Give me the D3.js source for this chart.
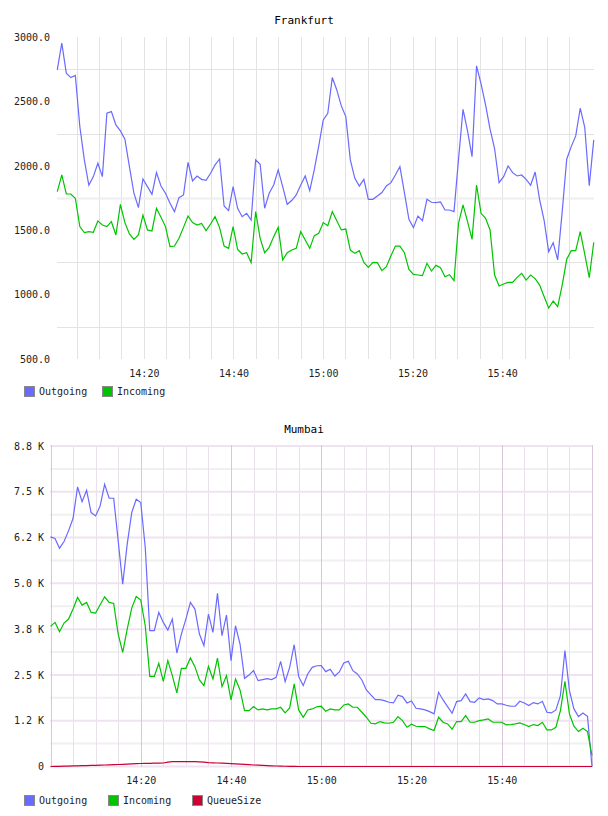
<!DOCTYPE html>
<html>
<head>
<meta charset="utf-8">
<script src="https://cdn.jsdelivr.net/npm/d3@7"></script>
<style>
body { margin: 0; background: #fff; }
text { font-family: "DejaVu Sans Mono", monospace; font-size: 10px; fill: #222; }
.title { font-size: 11px; fill: #000; }
</style>
</head>
<body>
<svg width="608" height="816"></svg>
<script>
// Frankfurt, one sample per minute from 14:00:40
var frankfurtOut = [2745, 2952, 2719, 2685, 2701, 2305, 2046, 1849, 1916, 2020,
	1916, 2408, 2421, 2317, 2271, 2206, 1994, 1787, 1675, 1898,
	1838, 1779, 1947, 1843, 1787, 1709, 1644, 1753, 1774, 2027,
	1882, 1921, 1895, 1888, 1942, 2007, 2053, 1688, 1652, 1838,
	1670, 1605, 1631, 1579, 2046, 2012, 1670, 1787, 1851, 1968,
	1838, 1701, 1730, 1774, 1851, 1921, 1807, 1968, 2154, 2356,
	2408, 2685, 2589, 2465, 2382, 2046, 1903, 1843, 1895, 1740,
	1740, 1766, 1792, 1843, 1869, 1929, 1994, 1792, 1585, 1520,
	1610, 1574, 1740, 1717, 1714, 1719, 1657, 1657, 1644, 2050,
	2439, 2271, 2071, 2776, 2636, 2473, 2284, 2134, 1869, 1916,
	1999, 1947, 1921, 1929, 1895, 1849, 1952, 1735, 1574, 1333,
	1403, 1269, 1644, 2051, 2149, 2232, 2447, 2299, 1846, 2201]
var frankfurtIn = [1799, 1929, 1781, 1781, 1748, 1528, 1481, 1489, 1484, 1572,
	1540, 1528, 1566, 1463, 1701, 1559, 1471, 1429, 1463, 1618,
	1502, 1494, 1670, 1600, 1528, 1372, 1377, 1437, 1522, 1610,
	1559, 1540, 1553, 1497, 1548, 1605, 1520, 1377, 1359, 1528,
	1351, 1315, 1325, 1248, 1644, 1437, 1325, 1367, 1450, 1522,
	1269, 1325, 1346, 1359, 1489, 1424, 1359, 1458, 1476, 1559,
	1535, 1644, 1574, 1502, 1509, 1346, 1320, 1341, 1250, 1211,
	1250, 1248, 1186, 1217, 1300, 1377, 1377, 1325, 1196, 1157,
	1152, 1147, 1243, 1183, 1227, 1209, 1139, 1155, 1108, 1553,
	1696, 1566, 1429, 1851, 1631, 1592, 1502, 1152, 1067, 1082,
	1095, 1095, 1134, 1165, 1113, 1152, 1124, 1074, 984, 896,
	950, 906, 1074, 1274, 1341, 1341, 1489, 1315, 1131, 1406]

// Mumbai, one sample per minute from 14:00:00
var mumbaiOut = [6269, 6224, 5960, 6142, 6433, 6778, 7632, 7232, 7541, 6933,
	6842, 7114, 7705, 7323, 7323, 6160, 4979, 6069, 6933, 7296,
	7205, 5979, 3707, 3707, 4207, 3934, 3725, 4025, 3098, 3616,
	4025, 4479, 4298, 3616, 3298, 4161, 3662, 4725, 3571, 4134,
	2889, 3843, 3344, 2408, 2499, 2617, 2344, 2371, 2399, 2371,
	2435, 2871, 2317, 2708, 3325, 2453, 2208, 2526, 2708, 2750,
	2753, 2590, 2653, 2471, 2580, 2826, 2871, 2617, 2526, 2362,
	2090, 1953, 1826, 1826, 1799, 1754, 1735, 1944, 1908, 1735,
	1790, 1590, 1572, 1545, 1499, 1436, 2026, 1817, 1635, 1454,
	1772, 1799, 1981, 1772, 1754, 1872, 1826, 1844, 1799, 1708,
	1708, 1672, 1645, 1645, 1781, 1735, 1663, 1745, 1708, 1781,
	1481, 1463, 1545, 1935, 3162, 2072, 1572, 1363, 1463, 1372,
	0]
var mumbaiIn = [3825, 3934, 3680, 3916, 4025, 4298, 4616, 4407, 4479, 4207,
	4189, 4416, 4634, 4479, 4452, 3616, 3116, 3753, 4325, 4643,
	4543, 3843, 2462, 2462, 2817, 2326, 2889, 2480, 2008, 2680,
	2680, 2962, 2726, 2362, 2208, 2735, 2390, 2962, 2181, 2480,
	1817, 2390, 2090, 1526, 1526, 1635, 1545, 1572, 1545, 1572,
	1572, 1617, 1463, 1599, 2253, 1545, 1345, 1545, 1572, 1630,
	1645, 1508, 1572, 1545, 1545, 1681, 1708, 1617, 1617, 1481,
	1345, 1181, 1163, 1227, 1190, 1181, 1208, 1363, 1254, 1072,
	1154, 1099, 1090, 1090, 1027, 981, 1345, 1208, 1163, 1018,
	1227, 1227, 1390, 1208, 1208, 1254, 1272, 1299, 1208, 1208,
	1208, 1136, 1145, 1163, 1190, 1145, 1090, 1145, 1118, 1208,
	999, 999, 1072, 1526, 2326, 1436, 1099, 954, 1045, 954,
	300]
var mumbaiQueue = [0, 3, 6, 9, 12, 15, 18, 22, 26, 30,
	33, 37, 41, 45, 50, 55, 60, 66, 72, 78,
	82, 85, 88, 90, 92, 95, 120, 132, 134, 135,
	135, 134, 132, 128, 120, 104, 100, 95, 90, 84,
	77, 72, 65, 58, 50, 41, 35, 28, 22, 18,
	14, 10, 7, 4, 2, 0, 0, 0, 0, 0,
	0, 0, 0, 0, 0, 0, 0, 0, 0, 0,
	0, 0, 0, 0, 0, 0, 0, 0, 0, 0,
	0, 0, 0, 0, 0, 0, 0, 0, 0, 0,
	0, 0, 0, 0, 0, 0, 0, 0, 0, 0,
	0, 0, 0, 0, 0, 0, 0, 0, 0, 0,
	0, 0, 0, 0, 0, 0, 0, 0, 0, 0,
	0]

var frankfurtTicks = [500, 1000, 1500, 2000, 2500, 3000]
var frankfurtGrid = [750, 1250, 1750, 2250, 2750]
var mumbaiTicks = [0, 1250, 2500, 3750, 5000, 6250, 7500, 8750]
var mumbaiTickLabels = ["0", "1.2 K", "2.5 K", "3.8 K", "5.0 K", "6.2 K", "7.5 K", "8.8 K"]
var mumbaiMinor = [625, 1875, 3125, 4375, 5625, 6875, 8125]

var colors = { out: "#6a6aff", inc: "#00c400", queue: "#cc0033" }

var svg = d3.select("svg")
var t0 = new Date(2020, 0, 1, 14, 0, 0)
var t1 = new Date(2020, 0, 1, 16, 0, 0)
var labelTimes = d3.timeMinute.every(20).range(new Date(2020, 0, 1, 14, 10), t1)
var fmt = d3.timeFormat("%H:%M")

function sampleTimes(n, startSec, stepSec) {
	var out = []
	for (var i = 0; i < n; i++) out.push(new Date(+t0 + (startSec + i * stepSec) * 1000))
	return out
}

function legend(g, items, xs, y) {
	items.forEach(function(it, i) {
		g.append("rect").attr("x", xs[i] + .5).attr("y", y + .5).attr("width", 10).attr("height", 10)
			.attr("fill", it[1]).attr("stroke", "#888")
		g.append("text").attr("x", xs[i] + 15).attr("y", y + 8.5).text(it[0])
	})
}

// ---------- Frankfurt ----------
var fTimes = sampleTimes(frankfurtOut.length, 40, 60.4)
var xF = d3.scaleTime().domain([t0, t1]).range([54.3, 591.7])
var yF = d3.scaleLinear().domain([500, 3000]).range([359, 37])

var topG = svg.append("g")
topG.append("text").attr("class", "title").attr("x", 304).attr("y", 24).attr("text-anchor", "middle").text("Frankfurt")

topG.selectAll(".vg").data(d3.timeMinute.every(5).range(new Date(2020, 0, 1, 14, 5), t1))
	.enter().append("line")
	.attr("x1", d => Math.round(xF(d)) + .5).attr("x2", d => Math.round(xF(d)) + .5)
	.attr("y1", 37).attr("y2", 359).attr("stroke", "#e3e3e3")
topG.selectAll(".hg").data(frankfurtGrid).enter().append("line")
	.attr("x1", 57).attr("x2", 594)
	.attr("y1", d => Math.round(yF(d)) + .5).attr("y2", d => Math.round(yF(d)) + .5)
	.attr("stroke", d => d == 1750 ? "#eeeeee" : "#e3e3e3")
	.attr("stroke-width", d => d == 1750 ? 2 : 1)

topG.append("g").attr("transform", "translate(57,0)")
	.call(d3.axisLeft(yF).tickValues(frankfurtTicks).tickFormat(d => d.toFixed(1)).tickSize(0).tickPadding(7))
	.call(g => g.select(".domain").remove())
topG.append("g").attr("transform", "translate(0,359)")
	.call(d3.axisBottom(xF).tickValues(labelTimes).tickFormat(fmt).tickSize(0).tickPadding(11))
	.call(g => g.select(".domain").remove())

var lineF = d3.line().x((d, i) => xF(fTimes[i])).y(d => yF(d))
topG.append("path").datum(frankfurtOut).attr("d", lineF).attr("fill", "none").attr("stroke", colors.out).attr("stroke-width", 1.2)
topG.append("path").datum(frankfurtIn).attr("d", lineF).attr("fill", "none").attr("stroke", colors.inc).attr("stroke-width", 1.2)

topG.selectAll(".tick text").attr("fill", "#222").style("font-family", "DejaVu Sans Mono").style("font-size", "10px")
legend(topG, [["Outgoing", colors.out], ["Incoming", colors.inc]], [24, 102], 386)

// ---------- Mumbai ----------
var mTimes = sampleTimes(mumbaiOut.length, 0, 60)
var xM = d3.scaleTime().domain([t0, t1]).range([50.5, 592])
var yM = d3.scaleLinear().domain([0, 8750]).range([766.5, 446])

var botG = svg.append("g")
botG.append("text").attr("class", "title").attr("x", 304).attr("y", 433).attr("text-anchor", "middle").text("Mumbai")

botG.selectAll(".hm").data(mumbaiMinor).enter().append("line")
	.attr("x1", 50).attr("x2", 593).attr("y1", d => yM(d)).attr("y2", d => yM(d))
	.attr("stroke", "#f1f0f1").attr("stroke-width", 2)
botG.selectAll(".vm").data(d3.timeMinute.every(5).range(t0, t1).filter(d => d.getMinutes() % 20))
	.enter().append("line")
	.attr("x1", d => Math.round(xM(d)) + .5).attr("x2", d => Math.round(xM(d)) + .5)
	.attr("y1", 446).attr("y2", 767).attr("stroke", "#e9e1e9")
botG.selectAll(".hM").data(mumbaiTicks).enter().append("line")
	.attr("x1", 50).attr("x2", 593).attr("y1", d => yM(d)).attr("y2", d => yM(d))
	.attr("stroke", "#f0e2f0").attr("stroke-width", 2)
botG.selectAll(".vM").data(d3.timeMinute.every(20).range(t0, new Date(+t1 + 1)))
	.enter().append("line")
	.attr("x1", d => Math.round(xM(d)) + .5).attr("x2", d => Math.round(xM(d)) + .5)
	.attr("y1", 445).attr("y2", 767).attr("stroke", "#dcc4dc")

botG.append("g").attr("transform", "translate(50.5,0)")
	.call(d3.axisLeft(yM).tickValues(mumbaiTicks).tickFormat((d, i) => mumbaiTickLabels[i]).tickSize(0).tickPadding(6.5))
	.call(g => g.select(".domain").remove())
botG.append("g").attr("transform", "translate(0,766.5)")
	.call(d3.axisBottom(xM).tickValues(labelTimes).tickFormat(fmt).tickSize(0).tickPadding(10.5))
	.call(g => g.select(".domain").remove())

var lineM = d3.line().x((d, i) => xM(mTimes[i])).y(d => yM(d))
botG.append("path").datum(mumbaiOut).attr("d", lineM).attr("fill", "none").attr("stroke", colors.out).attr("stroke-width", 1.2)
botG.append("path").datum(mumbaiIn).attr("d", lineM).attr("fill", "none").attr("stroke", colors.inc).attr("stroke-width", 1.2)
botG.append("path").datum(mumbaiQueue).attr("d", lineM).attr("fill", "none").attr("stroke", colors.queue).attr("stroke-width", 1.2)

botG.selectAll(".tick text").attr("fill", "#222").style("font-family", "DejaVu Sans Mono").style("font-size", "10px")
legend(botG, [["Outgoing", colors.out], ["Incoming", colors.inc], ["QueueSize", colors.queue]], [24, 108, 192], 795)
</script>
</body>
</html>
